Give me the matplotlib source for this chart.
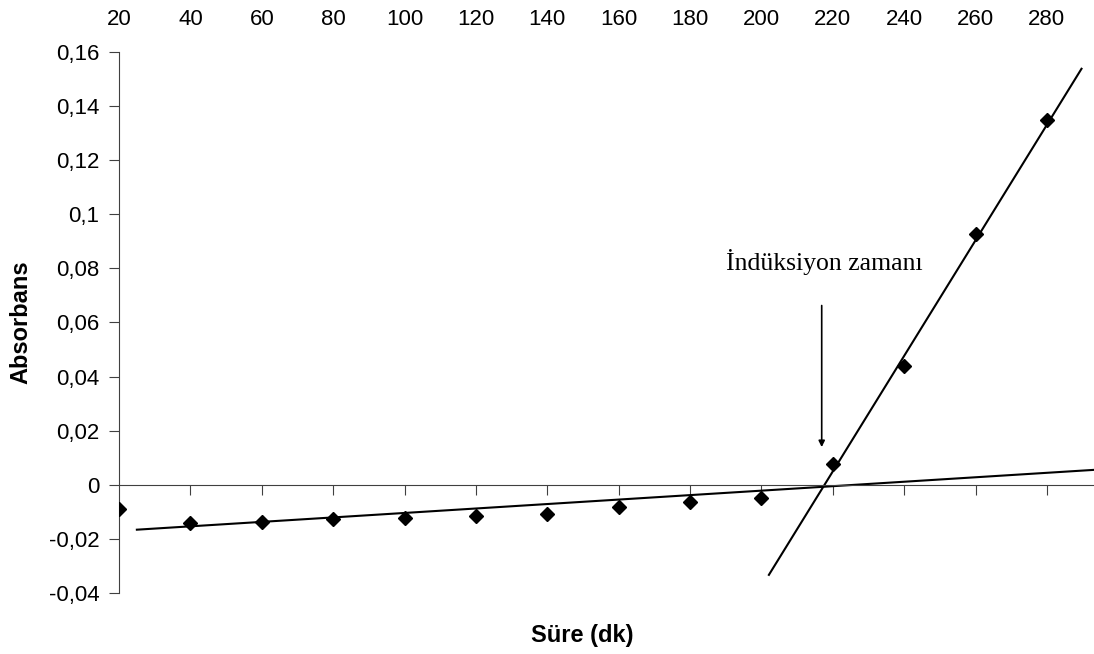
import numpy as np
import matplotlib.pyplot as plt

# Süre (dk) ve absorbans değerleri
sure = [20, 40, 60, 80, 100, 120, 140, 160, 180, 200, 220, 240, 260, 280]
absorbans = [-0.0089, -0.0140, -0.0137, -0.0126, -0.0122, -0.0114, -0.0107,
             -0.0081, -0.0063, -0.0048, 0.0078, 0.0440, 0.0928, 0.1350]

# trend çizgileri (uç noktaları)
trend1_x = [25, 293]
trend1_y = [-0.0166, 0.0055]
trend2_x = [202.1, 289.7]
trend2_y = [-0.0333, 0.1538]

x_ticks = list(range(20, 281, 20))
y_ticks = [-0.04, -0.02, 0, 0.02, 0.04, 0.06, 0.08, 0.1, 0.12, 0.14, 0.16]
y_labels = ["-0,04", "-0,02", "0", "0,02", "0,04", "0,06", "0,08", "0,1",
            "0,12", "0,14", "0,16"]

ok_x = 216.9
ok_y = [0.0673, 0.0129]

plt.rcParams['font.family'] = ['Liberation Sans', 'DejaVu Sans']

fig = plt.figure(figsize=(10.94, 6.54), dpi=100)
ax = fig.add_axes([0.1088, 0.0933, 0.8912, 0.8272])

ax.plot(trend1_x, trend1_y, color="black", lw=1.5)
ax.plot(trend2_x, trend2_y, color="black", lw=1.5)
ax.plot(sure, absorbans, linestyle="none", marker="D", color="black",
        markersize=7.5, zorder=3)

ax.set_xlim(20, 293.2)
ax.set_ylim(-0.04, 0.16)

spine_col = "#404040"
ax.spines['top'].set_visible(False)
ax.spines['right'].set_visible(False)
ax.spines['bottom'].set_position(('data', 0))
ax.spines['bottom'].set_color(spine_col)
ax.spines['left'].set_color(spine_col)

ax.set_xticks(x_ticks[1:])
ax.tick_params(axis='x', direction='out', length=7, color=spine_col,
               labelbottom=False)
ax.set_yticks(y_ticks)
ax.set_yticklabels(y_labels)
ax.tick_params(axis='y', direction='out', length=7, color=spine_col,
               labelsize=16, pad=7)

top = ax.secondary_xaxis('top')
top.set_xticks(x_ticks)
top.tick_params(length=0, labelsize=16, pad=16)
top.spines['top'].set_visible(False)

ax.set_ylabel("Absorbans", fontsize=17, fontweight="bold", labelpad=12)
fig.text(0.532, 0.029, "Süre (dk)", fontsize=17, fontweight="bold",
         ha="center", va="center")

ax.annotate("", xy=(ok_x, ok_y[1]), xytext=(ok_x, ok_y[0]),
            arrowprops=dict(arrowstyle="-|>", color="black", lw=1.2,
                            mutation_scale=9))
ax.text(ok_x + 0.6, 0.0825, "İndüksiyon zamanı", family="Liberation Serif",
        fontsize=18.5, ha="center", va="center")

fig.savefig("out.png", dpi=100)
